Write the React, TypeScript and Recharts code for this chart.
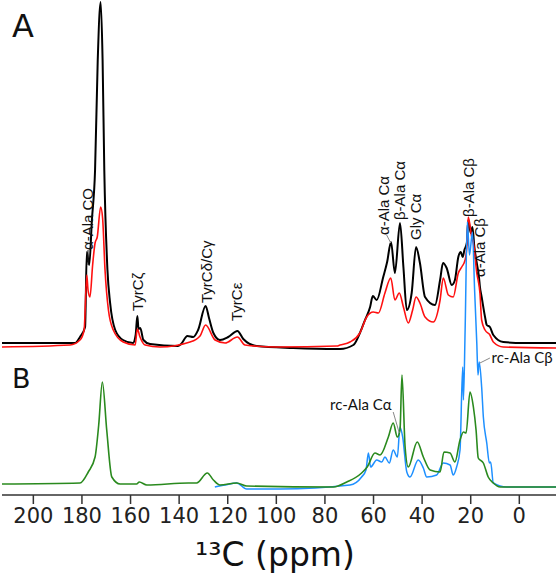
import React from "react";
import {
  ComposedChart,
  Line,
  XAxis,
  YAxis,
  ReferenceDot,
  ReferenceLine,
} from "recharts";

// 13C CP spectra, [ppm, intensity]
const blackA: [number, number][] = [
  [213, 7], [182.8, 7], [180.8, 13], [178.7, 23], [178.0, 98], [177.0, 85], [175.9, 130],
  [174.6, 180], [173.5, 290], [172.3, 348], [171.5, 290], [170.8, 180], [169.5, 80],
  [168.4, 47], [166.3, 20], [163.1, 10], [159.0, 7], [157.9, 15], [157.2, 34], [156.7, 21],
  [156.0, 22], [154.7, 10], [152.0, 6], [140.5, 4], [139.2, 6], [136.6, 14], [134.2, 13],
  [132.2, 20], [129.1, 44], [127.7, 32], [125.9, 17], [123.2, 10], [119.8, 13], [116.0, 19],
  [113.6, 11], [108.1, 4], [93.1, 2], [75.1, 1], [73.8, 1], [68.3, 5], [65.6, 17],
  [63.5, 30], [61.4, 43], [60.3, 54], [58.7, 50], [56.0, 73], [54.4, 88], [52.8, 108],
  [51.2, 77], [49.1, 127], [47.7, 83], [46.3, 40], [44.3, 57], [42.5, 103], [40.9, 87],
  [38.8, 53], [34.7, 45], [32.6, 70], [31.4, 87], [29.9, 82], [27.8, 65], [26.5, 70],
  [25.1, 93], [24.1, 98], [23.3, 93], [22.6, 100], [21.6, 107], [21.0, 130], [20.0, 117],
  [19.3, 123], [18.5, 103], [17.5, 87], [16.6, 73], [16.2, 63], [15.5, 53], [14.1, 33],
  [13.4, 25], [12.1, 23], [10.7, 15], [6.6, 8], [-1.6, 7], [-15.1, 7],
];

const redA: [number, number][] = [
  [213, 3], [184.9, 5], [180.8, 10], [179.1, 20], [178.0, 75], [177.5, 60], [176.7, 53],
  [175.6, 85], [174.6, 107], [173.7, 113], [172.3, 143], [171.5, 132], [170.5, 80],
  [169.1, 40], [167.1, 20], [163.0, 8], [158.1, 5], [157.2, 21], [156.1, 13], [154.0, 5],
  [147.9, 3], [135.5, 8], [131.4, 14], [129.1, 25], [125.2, 10], [121.1, 7], [116.0, 13],
  [112.9, 5], [99.8, 3], [75.1, 4], [73.8, 5], [69.7, 8], [65.6, 17], [62.8, 33],
  [60.1, 38], [58.0, 37], [55.3, 57], [52.9, 72], [51.2, 50], [49.4, 57], [47.7, 43],
  [45.7, 27], [43.9, 40], [42.5, 53], [40.9, 47], [38.8, 33], [35.4, 28], [32.6, 50],
  [31.3, 72], [29.2, 55], [27.2, 53], [25.1, 77], [23.7, 83], [22.3, 90], [21.6, 103],
  [21.0, 133], [19.6, 113], [18.9, 107], [17.5, 77], [16.2, 57], [15.5, 30], [14.1, 20],
  [12.1, 15], [10.7, 8], [6.6, 3], [-15.1, 2],
];

const greenB: [number, number][] = [
  [213, 3], [180.8, 4], [177.4, 15], [174.6, 30], [173.1, 62], [171.6, 105], [169.8, 57],
  [167.7, 10], [164.3, 3], [157.5, 3], [156.4, 5], [153.3, 2], [136.2, 4], [132.8, 4],
  [128.4, 14], [125.9, 7], [123.2, 2], [116.3, 4], [112.2, 1], [76.5, 0], [71.0, 5],
  [64.9, 14], [62.6, 20], [59.4, 34], [57.3, 32], [53.9, 50], [51.9, 64], [50.2, 50],
  [49.1, 57], [48.3, 112], [47.0, 40], [45.7, 20], [42.0, 45], [39.5, 30], [36.7, 17],
  [32.6, 15], [31.0, 35], [28.5, 34], [26.5, 25], [24.4, 47], [23.0, 55], [21.9, 54],
  [20.3, 95], [18.9, 80], [17.8, 57], [16.9, 29], [14.8, 24], [12.8, 10], [10.7, 4],
  [7.9, 0], [-15.1, 0],
];

const blueB: [number, number][] = [
  [125.3, 0], [121.1, 2], [116.3, 4], [112.2, -2], [98.5, -2], [69.7, 2], [64.9, 10],
  [63.1, 17], [62.1, 34], [61.2, 20], [58.7, 27], [56.6, 25], [55.3, 30], [53.5, 24],
  [51.9, 37], [50.2, 30], [49.1, 60], [48.0, 50], [46.3, 15], [45.0, 10], [41.6, 27],
  [39.5, 19], [38.1, 10], [34.0, 12], [31.3, 24], [28.5, 22], [27.2, 12], [25.8, 20],
  [24.4, 37], [23.3, 120], [23.0, 87], [22.3, 157], [21.4, 265], [20.5, 232], [19.3, 255],
  [18.4, 197], [17.5, 144], [17.0, 112], [16.5, 125], [15.5, 100], [14.8, 70], [13.4, 44],
  [12.3, 24], [11.8, 25], [10.7, 4], [5.2, 0], [-15.1, 0],
];

const ppmTicks = [0, 20, 40, 60, 80, 100, 120, 140, 160, 180, 200];

// rotated peak assignments: ppm, chart value where the text starts
const peakLabels = [
  { text: "α-Ala CO", ppm: 177.5, v: 245 },
  { text: "TyrCζ", ppm: 157.2, v: 184 },
  { text: "TyrCδ/Cγ", ppm: 128.6, v: 192 },
  { text: "TyrCε", ppm: 116.3, v: 174 },
  { text: "α-Ala Cα", ppm: 56.0, v: 260 },
  { text: "β-Ala Cα", ppm: 49.4, v: 275 },
  { text: "Gly Cα", ppm: 42.5, v: 255 },
  { text: "β-Ala Cβ", ppm: 21.0, v: 278 },
  { text: "α-Ala Cβ", ppm: 16.5, v: 218 },
];

const leaders = [
  { from: [177.5, 245], to: [177.5, 230], color: "#222" },
  { from: [54.6, 260], to: [52.9, 252], color: "#888" },
  { from: [12.1, 137], to: [16.2, 132], color: "#888" },
  { from: [51.9, 83], to: [49.4, 62], color: "#888" },
];

const OFFSET_A = 145;
const OFFSET_B = 8;

const rows = (pts: [number, number][], off: number) =>
  pts.map(([ppm, v]) => ({ ppm, v: v + off }));

const RotText = ({ viewBox, text }: any) => {
  const x = viewBox.x + (viewBox.width || 0) / 2;
  const y = viewBox.y + (viewBox.height || 0) / 2;
  return (
    <text
      x={x}
      y={y}
      dy="0.36em"
      transform={`rotate(-90 ${x} ${y})`}
      fontSize={15}
      fontFamily="Liberation Sans, Arial, sans-serif"
      fill="#111"
    >
      {text}
    </text>
  );
};

const FlatText = ({ viewBox, text, anchor, size, family }: any) => {
  const x = viewBox.x + (viewBox.width || 0) / 2;
  const y = viewBox.y + (viewBox.height || 0) / 2;
  return (
    <text
      x={x}
      y={y}
      dy="0.36em"
      textAnchor={anchor}
      fontSize={size}
      fontFamily={family}
      fill="#111"
    >
      {text}
    </text>
  );
};

export default function App() {
  return (
    <div style={{ width: 556, height: 575, background: "#fff" }}>
      <style>{"body{margin:0}"}</style>
      <ComposedChart
        width={556}
        height={575}
        margin={{ top: 0, right: 0, left: 2, bottom: 0 }}
        style={{ fontFamily: "DejaVu Sans, sans-serif" }}
      >
        <XAxis
          type="number"
          dataKey="ppm"
          domain={[-15.1, 212.9]}
          reversed
          allowDataOverflow
          ticks={ppmTicks}
          height={80}
          tickSize={9}
          tickMargin={4}
          stroke="#333"
          strokeWidth={1.5}
          tick={{ fontSize: 21, fill: "#222" }}
          label={{
            content: ({ viewBox }: any) => (
              <text
                x={viewBox.x + viewBox.width / 2 - 4}
                y={viewBox.y + 71}
                textAnchor="middle"
                fontSize={33}
                fill="#111"
              >
                ¹³C (ppm)
              </text>
            ),
          }}
        />
        <YAxis type="number" domain={[0, 495]} hide allowDataOverflow />

        <Line data={rows(blackA, OFFSET_A)} dataKey="v" type="monotone" stroke="#000" strokeWidth={2} dot={false} isAnimationActive={false} />
        <Line data={rows(redA, OFFSET_A)} dataKey="v" type="monotone" stroke="#ff1010" strokeWidth={1.6} dot={false} isAnimationActive={false} />
        <Line data={rows(blueB, OFFSET_B)} dataKey="v" type="monotone" stroke="#1e90ff" strokeWidth={1.5} dot={false} isAnimationActive={false} />
        <Line data={rows(greenB, OFFSET_B)} dataKey="v" type="monotone" stroke="#2a8a1e" strokeWidth={1.6} dot={false} isAnimationActive={false} />

        {leaders.map((l, i) => (
          <ReferenceLine
            key={"ld" + i}
            segment={[
              { x: l.from[0], y: l.from[1] },
              { x: l.to[0], y: l.to[1] },
            ]}
            stroke={l.color}
            strokeWidth={1}
          />
        ))}

        {peakLabels.map((p) => (
          <ReferenceDot
            key={p.text}
            x={p.ppm}
            y={p.v}
            r={0}
            fill="none"
            stroke="none"
            label={(props: any) => <RotText {...props} text={p.text} />}
          />
        ))}

        <ReferenceDot x={11.4} y={137} r={0} fill="none" stroke="none"
          label={(props: any) => <FlatText {...props} text="rc-Ala Cβ" anchor="start" size={15} family="Lato, sans-serif" />} />
        <ReferenceDot x={52.5} y={90} r={0} fill="none" stroke="none"
          label={(props: any) => <FlatText {...props} text="rc-Ala Cα" anchor="end" size={15} family="Lato, sans-serif" />} />

        <ReferenceDot x={208.8} y={470} r={0} fill="none" stroke="none"
          label={(props: any) => <FlatText {...props} text="A" anchor="start" size={32} family="DejaVu Sans, sans-serif" />} />
        <ReferenceDot x={208.8} y={117} r={0} fill="none" stroke="none"
          label={(props: any) => <FlatText {...props} text="B" anchor="start" size={27} family="DejaVu Sans, sans-serif" />} />
      </ComposedChart>
    </div>
  );
}
